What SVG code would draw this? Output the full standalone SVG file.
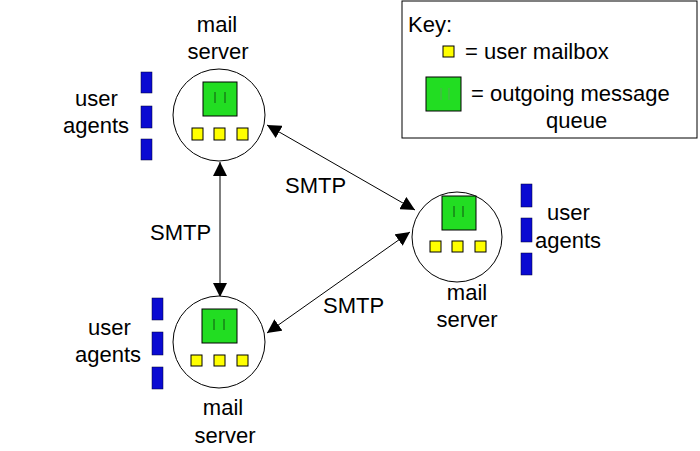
<svg xmlns="http://www.w3.org/2000/svg" width="700" height="451" viewBox="0 0 700 451">
<style>
text{font-family:"Liberation Sans",Arial,sans-serif;font-size:22px;fill:#000}
.c{text-anchor:middle}
.srv{fill:#fff;stroke:#000;stroke-width:1}
.q{fill:#22dd22;stroke:#000;stroke-width:1}
.ql{stroke:#115511;stroke-width:1}
.mb{fill:#ffff00;stroke:#000;stroke-width:1}
.ua{fill:#0a0ad2;stroke:#000033;stroke-width:0.5}
.conn{stroke:#000;stroke-width:1;fill:none;marker-start:url(#ah);marker-end:url(#ah)}
</style>
<defs>
<marker id="ah" viewBox="0 0 10 10" refX="10" refY="5" markerWidth="14" markerHeight="14" markerUnits="userSpaceOnUse" orient="auto-start-reverse">
<path d="M0,0 L10,5 L0,10 z" fill="#000"/>
</marker>
</defs>
<rect width="700" height="451" fill="#fff"/>
<g id="key">
<rect x="402" y="1" width="295" height="137" fill="#fff" stroke="#000" stroke-width="1"/>
<text x="408" y="32">Key:</text>
<rect class="mb" x="443" y="46" width="11" height="11"/>
<text x="465" y="59">= user mailbox</text>
<rect class="q" x="426" y="77" width="35" height="34"/>
<line x1="441" y1="88" x2="441" y2="100" stroke="#55aa55"/>
<line x1="449" y1="88" x2="449" y2="100" stroke="#55aa55"/>
<text x="471" y="101">= outgoing message</text>
<text x="546" y="128">queue</text>
</g>
<g id="connectors">
<line class="conn" x1="220" y1="162" x2="220" y2="297"/>
<line class="conn" x1="267" y1="125" x2="415" y2="210"/>
<line class="conn" x1="410" y1="232" x2="267" y2="333"/>
<text x="150" y="240">SMTP</text>
<text x="285" y="193">SMTP</text>
<text x="323" y="313">SMTP</text>
</g>
<g id="server-top">
<circle class="srv" cx="219" cy="115" r="46"/>
<rect class="q" x="203" y="82" width="34" height="34"/>
<line class="ql" x1="215" y1="92" x2="215" y2="103"/>
<line class="ql" x1="225" y1="92" x2="225" y2="103"/>
<rect class="mb" x="192" y="128" width="11" height="12"/>
<rect class="mb" x="214" y="128" width="11" height="12"/>
<rect class="mb" x="237" y="128" width="11" height="12"/>
<text class="c" x="217" y="32">mail</text>
<text class="c" x="218" y="59">server</text>
</g>
<g id="agents-top">
<rect class="ua" x="141" y="72" width="11" height="21"/>
<rect class="ua" x="141" y="106" width="11" height="22"/>
<rect class="ua" x="141" y="139" width="11" height="21"/>
<text x="75" y="106">user</text>
<text x="63" y="133">agents</text>
</g>
<g id="server-right">
<circle class="srv" cx="457" cy="237" r="45"/>
<rect class="q" x="442" y="196" width="34" height="34"/>
<line class="ql" x1="454" y1="206" x2="454" y2="217"/>
<line class="ql" x1="463" y1="206" x2="463" y2="217"/>
<rect class="mb" x="430" y="241" width="11" height="11"/>
<rect class="mb" x="452" y="241" width="11" height="11"/>
<rect class="mb" x="475" y="241" width="11" height="11"/>
<text class="c" x="467" y="300">mail</text>
<text class="c" x="467" y="327">server</text>
</g>
<g id="agents-right">
<rect class="ua" x="521" y="184" width="11" height="23"/>
<rect class="ua" x="521" y="218" width="11" height="24"/>
<rect class="ua" x="521" y="253" width="11" height="22"/>
<text x="547" y="220">user</text>
<text x="535" y="248">agents</text>
</g>
<g id="server-bottom">
<circle class="srv" cx="219" cy="342" r="46"/>
<rect class="q" x="202" y="309" width="35" height="34"/>
<line class="ql" x1="214" y1="319" x2="214" y2="330"/>
<line class="ql" x1="224" y1="319" x2="224" y2="330"/>
<rect class="mb" x="191" y="355" width="11" height="11"/>
<rect class="mb" x="214" y="355" width="11" height="11"/>
<rect class="mb" x="237" y="355" width="11" height="11"/>
<text class="c" x="223" y="415">mail</text>
<text class="c" x="225" y="443">server</text>
</g>
<g id="agents-bottom">
<rect class="ua" x="152" y="298" width="11" height="22"/>
<rect class="ua" x="152" y="332" width="11" height="23"/>
<rect class="ua" x="152" y="367" width="11" height="22"/>
<text x="88" y="335">user</text>
<text x="75" y="362">agents</text>
</g>
</svg>
